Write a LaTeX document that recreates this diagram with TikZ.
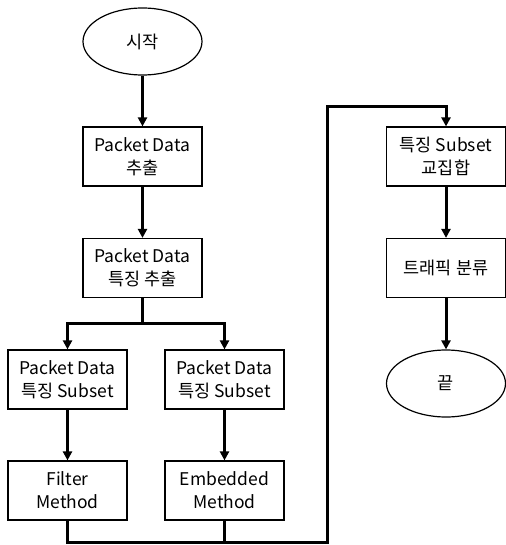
\documentclass[tikz,border=0pt]{standalone}
\usepackage{fontspec}
\setmainfont{Noto Sans CJK KR}
\usetikzlibrary{arrows.meta,shapes.geometric}
\tikzset{
  stepbox/.style={draw, line width=1.2pt, minimum width=119pt, minimum height=59pt,
    align=center, inner sep=0pt, font=\fontsize{17.5}{23}\selectfont},
  terminal/.style={draw, ellipse, line width=1.2pt, minimum width=119pt, minimum height=67pt,
    inner sep=0pt, font=\fontsize{17.5}{23}\selectfont},
  flow/.style={line width=3pt, -{Triangle[length=9pt,width=9pt]}},
  plain/.style={line width=3pt}
}
\begin{document}
\begin{tikzpicture}[x=1pt,y=-1pt]
    \useasboundingbox (0,0) rectangle (505,545);
    % left column
    \node[terminal] (start) at (142.5,41.5) {시작};
    \node[stepbox] (extract) at (142.5,156.5) {Packet Data\\추출};
    \node[stepbox] (feature) at (142.5,268) {Packet Data\\특징 추출};
    \node[stepbox] (subsetA) at (67.5,379.5) {Packet Data\\특징 Subset};
    \node[stepbox] (subsetB) at (224.5,379.5) {Packet Data\\특징 Subset};
    \node[stepbox] (filter) at (67.5,490.5) {Filter\\Method};
    \node[stepbox] (embedded) at (224.5,490.5) {Embedded\\Method};
    % right column
    \node[stepbox] (inter) at (446,156.5) {특징 Subset\\교집합};
    \node[stepbox] (classify) at (446,268) {트래픽 분류};
    \node[terminal] (end) at (446,383.5) {끝};
    \coordinate (fork) at (142.5,323);
    \coordinate (join) at (327,542);
    \coordinate (top) at (327,107);

    \draw[flow] (start) -- (extract);
    \draw[flow] (extract) -- (feature);
    \draw[plain] (feature) -- (fork);
    \draw[flow] (fork) -| (subsetA);
    \draw[flow] (fork) -| (subsetB);
    \draw[flow] (subsetA) -- (filter);
    \draw[flow] (subsetB) -- (embedded);
    % merge and go to the right column
    \draw[plain] (embedded) -- (embedded |- join);
    \draw[flow] (filter) |- (join) -- (top) -| (inter);
    \draw[flow] (inter) -- (classify);
    \draw[flow] (classify) -- (end);
\end{tikzpicture}
\end{document}
